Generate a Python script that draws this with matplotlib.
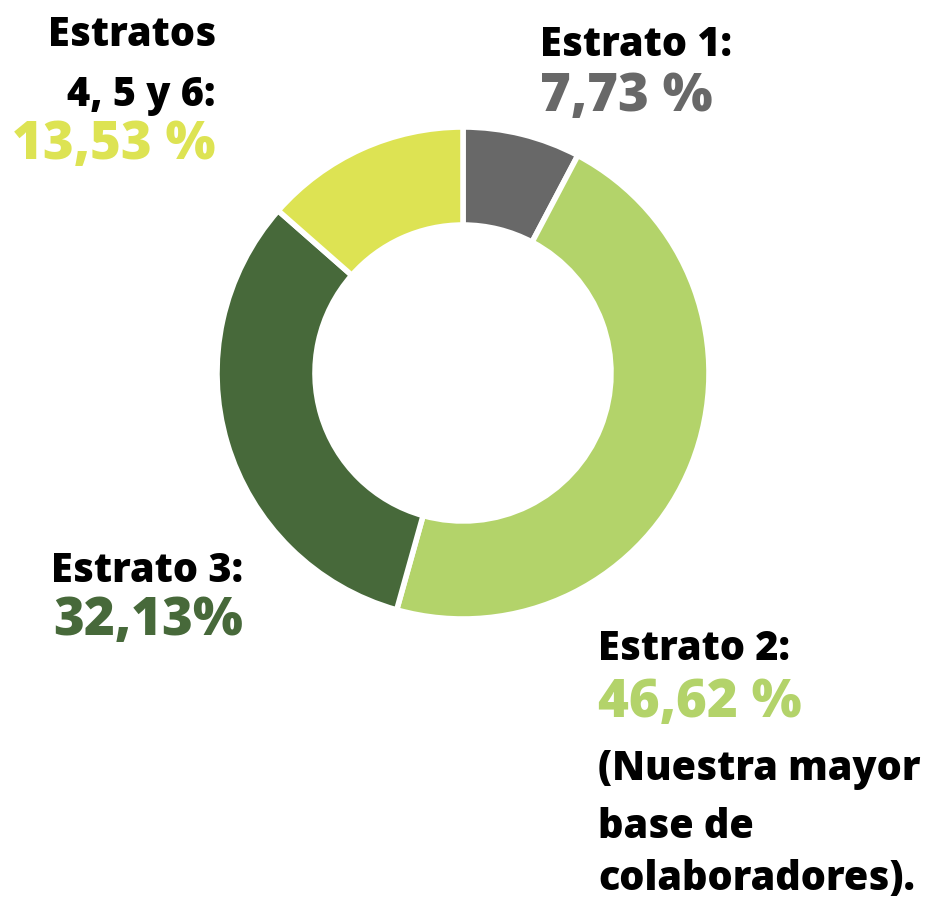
import matplotlib
matplotlib.use("Agg")
import matplotlib.pyplot as plt

# share of collaborators by socio-economic stratum
labels = ["Estrato 1", "Estrato 2", "Estrato 3", "Estratos 4, 5 y 6"]
values = [7.73, 46.62, 32.13, 13.53]
value_texts = ["7,73 %", "46,62 %", "32,13%", "13,53 %"]
colors = ["#686868", "#b3d36a", "#47693a", "#dde353"]

plt.rcParams["font.family"] = ["Open Sans", "DejaVu Sans"]

W, H = 927, 901
fig = plt.figure(figsize=(W / 100, H / 100), dpi=100)
ax = fig.add_axes([0, 0, 1, 1])
ax.set_xlim(0, W)
ax.set_ylim(0, H)
ax.set_aspect("equal")
ax.axis("off")

ax.pie(values, colors=colors, startangle=90, counterclock=False,
       center=(463, H - 373), radius=246,
       wedgeprops=dict(width=98, edgecolor="white", linewidth=4))
ax.set_xlim(0, W)
ax.set_ylim(0, H)

head = dict(fontsize=28.5, fontweight="heavy", color="black", va="center")
big = dict(fontsize=38, fontweight="heavy", va="center")

# Estratos 4, 5 y 6
ax.text(216, H - 35, "Estratos", ha="right", **head)
ax.text(216, H - 95, "4, 5 y 6:", ha="right", **head)
ax.text(216, H - 145, value_texts[3], ha="right", color=colors[3], **big)

# Estrato 1
ax.text(540, H - 45, "Estrato 1:", ha="left", **head)
ax.text(540, H - 97, value_texts[0], ha="left", color=colors[0], **big)

# Estrato 3
ax.text(243, H - 572, "Estrato 3:", ha="right", **head)
ax.text(243, H - 622, value_texts[2], ha="right", color=colors[2], **big)

# Estrato 2
ax.text(598, H - 650, "Estrato 2:", ha="left", **head)
ax.text(598, H - 703, value_texts[1], ha="left", color=colors[1], **big)
ax.text(598, H - 770, "(Nuestra mayor", ha="left", **head)
ax.text(598, H - 828, "base de", ha="left", **head)
ax.text(598, H - 880, "colaboradores).", ha="left", **head)

fig.savefig("out.png", dpi=100, facecolor="white")
